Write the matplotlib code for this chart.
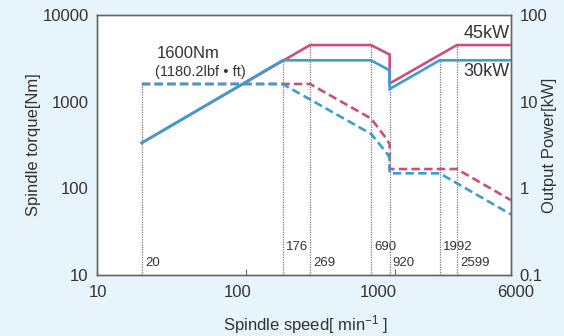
import matplotlib
matplotlib.use("Agg")
import matplotlib.pyplot as plt
import matplotlib.transforms as mtransforms

plt.rcParams['font.family'] = ['Liberation Sans', 'DejaVu Sans']
plt.rcParams['mathtext.default'] = 'regular'

# ---- data ----
# Output power (solid, right axis, kW)
speed_p45 = [20, 176, 269, 690, 920, 920, 2599, 6000]
power_45 = [3.35, 29.5, 45, 45, 35, 16.2, 45, 45]
speed_p30 = [20, 176, 690, 920, 920, 1992, 6000]
power_30 = [3.35, 30, 30, 23, 14, 30, 30]

# Spindle torque (dashed, left axis, Nm)
speed_t45 = [20, 269, 690, 880, 920, 920, 2599, 6000]
torque_45 = [1600, 1600, 640, 370, 320, 167, 167, 73]
speed_t30 = [20, 176, 690, 880, 920, 920, 1992, 6000]
torque_30 = [1600, 1600, 425, 255, 225, 149, 149, 50]

# Reference speeds (dotted guide lines) and their top values on the power axis
guide_speeds = [20, 176, 269, 690, 920, 1992, 2599]
guide_tops = [16, 30, 45, 45, 35, 30, 45]
guide_labels = ['20', '176', '269', '690', '920', '1992', '2599']
guide_row_high = [False, True, False, True, False, True, False]

xticks = [10, 100, 1000, 6000]
xtick_labels = ['10', '100', '1000', '6000']
ly_ticks = [10, 100, 1000, 10000]
ly_labels = ['10', '100', '1000', '10000']
ry_ticks = [0.1, 1, 10, 100]
ry_labels = ['0.1', '1', '10', '100']

RED = '#c9507e'
BLUE = '#3a9ed3'
BG = '#e8f4fb'
TXT = '#333333'

fig = plt.figure(figsize=(5.64, 3.36), dpi=100, facecolor=BG)
ax = fig.add_axes([97/564, 1-275/336, 414/564, 260/336])
ax.set_facecolor('white')
ax2 = ax.twinx()

ax.set_xscale('log')
ax.set_yscale('log')
ax2.set_yscale('log')
ax.set_xlim(10, 6000)
ax.set_ylim(10, 10000)
ax2.set_ylim(0.1, 100)

# guide lines
for s, top in zip(guide_speeds, guide_tops):
    ax2.plot([s, s], [0.1, top], color='#777777', lw=0.9, ls=(0, (1, 1)), zorder=1)

trans = mtransforms.blended_transform_factory(ax.transData, ax.transAxes)
for s, lab, high in zip(guide_speeds, guide_labels, guide_row_high):
    yy = 0.108 if high else 0.046
    ax.text(s, yy, lab, transform=trans + mtransforms.ScaledTranslation(3/100, 0, fig.dpi_scale_trans),
            ha='left', va='center', fontsize=9.5, color=TXT)

dash = (0, (3.2, 1.6))
ax.plot(speed_t45, torque_45, color=RED, lw=1.9, ls=dash, zorder=3)
ax.plot(speed_t30, torque_30, color=BLUE, lw=1.9, ls=dash, zorder=4)
ax2.plot(speed_p45, power_45, color=RED, lw=1.9, zorder=3, solid_joinstyle='miter')
ax2.plot(speed_p30, power_30, color=BLUE, lw=1.9, zorder=4, solid_joinstyle='miter')

ax.set_xticks(xticks)
ax.set_xticklabels(xtick_labels)
ax.set_yticks(ly_ticks)
ax.set_yticklabels(ly_labels)
ax2.set_yticks(ry_ticks)
ax2.set_yticklabels(ry_labels)
ax.minorticks_off()
ax2.minorticks_off()

ax.tick_params(axis='x', direction='in', length=4, width=0.8, color='#666666',
               labelsize=12, labelcolor=TXT, pad=7)
ax.tick_params(axis='y', length=0, labelsize=12, labelcolor=TXT, pad=6)
ax2.tick_params(axis='y', length=0, labelsize=12, labelcolor=TXT, pad=6)

# small manual shifts of x tick labels as in the original
xoffs = [1.5, -8, -17, 5]
for lab, dx in zip(ax.get_xticklabels(), xoffs):
    lab.set_transform(lab.get_transform() + mtransforms.ScaledTranslation(dx/100, 0, fig.dpi_scale_trans))

for a in (ax, ax2):
    for sp in a.spines.values():
        sp.set_color('#666666')
        sp.set_linewidth(1.0)

ax.set_xlabel('Spindle speed[ min$^{-1}$ ]', fontsize=12, color=TXT)
ax.set_ylabel('Spindle torque[Nm]', fontsize=12, color=TXT)
ax2.set_ylabel('Output Power[kW]', fontsize=12, color=TXT)
ax.xaxis.set_label_coords(0.505, -0.145)
ax.yaxis.set_label_coords(-0.135, 0.5)
ax2.yaxis.set_label_coords(1.074, 0.5)

ax.text(0.144, 0.853, '1600Nm', transform=ax.transAxes, fontsize=12, color=TXT,
        ha='left', va='center')
ax.text(0.140, 0.782, '(1180.2lbf • ft)', transform=ax.transAxes, fontsize=10.5, color=TXT,
        ha='left', va='center')
ax.text(0.997, 0.927, '45kW', transform=ax.transAxes, fontsize=13, color=TXT,
        ha='right', va='center')
ax.text(0.997, 0.782, '30kW', transform=ax.transAxes, fontsize=13, color=TXT,
        ha='right', va='center')

fig.savefig('out.png', dpi=100, facecolor=BG)
